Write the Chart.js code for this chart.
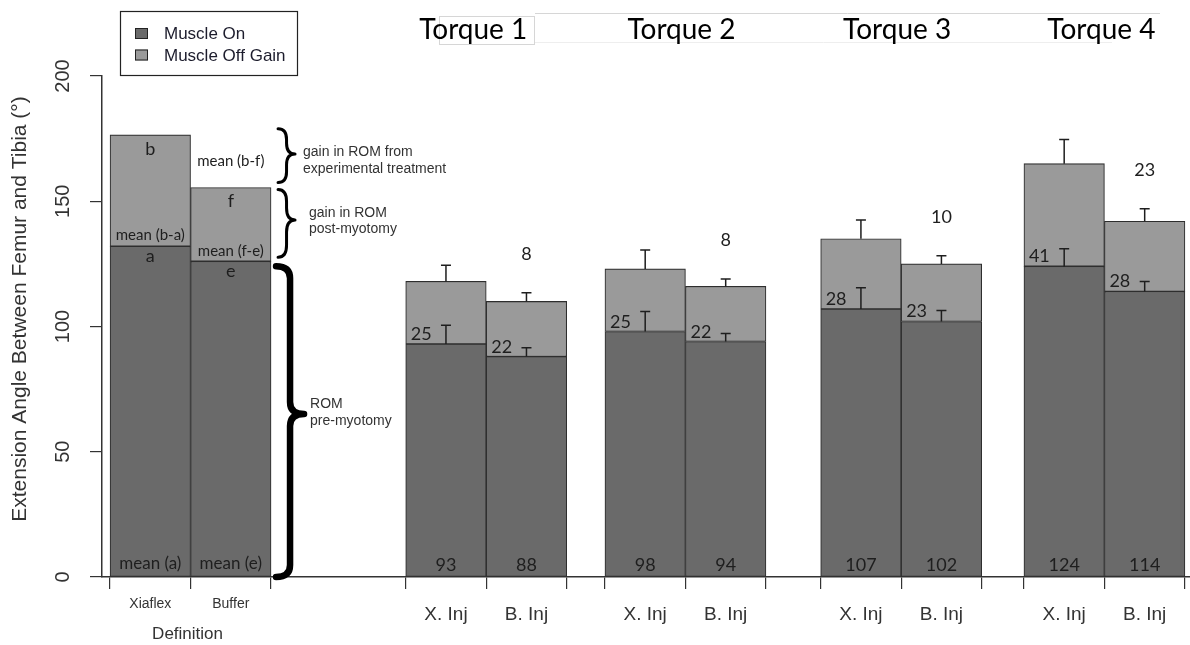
<!DOCTYPE html>
<html>
<head>
<meta charset="utf-8">
<script src="https://cdn.jsdelivr.net/npm/chart.js@4/dist/chart.umd.min.js"></script>
<style>
  html, body { margin: 0; padding: 0; background: #fff; }
  #wrap { width: 1190px; height: 645px; position: relative; }
</style>
</head>
<body>
<div id="wrap"><canvas id="c"></canvas></div>
<script>
// ---- categories ----
const definitionBars = ['Xiaflex', 'Buffer'];
const torqueGroups = ['Torque 1', 'Torque 2', 'Torque 3', 'Torque 4'];
const injections = ['X. Inj', 'B. Inj'];
const seriesNames = ['Muscle On', 'Muscle Off Gain'];

// ---- schematic definition bars (degrees) ----
const defMuscleOn = [132, 126];
const defOffGain = [44.5, 29.5];

// ---- extension angle with muscle on (degrees) ----
const onXiaflex = [93, 98, 107, 124];
const onBuffer = [88, 94, 102, 114];

// ---- additional extension after myotomy (degrees) ----
const gainXiaflex = [25, 25, 28, 41];
const gainBuffer = [22, 22, 23, 28];

// ---- upper error bars (degrees) ----
const errOnXiaflex = [7.5, 8, 8.5, 7];
const errOnBuffer = [3.5, 3.2, 4.4, 4];
const errGainXiaflex = [6.5, 7.5, 7.5, 9.7];
const errGainBuffer = [3.5, 3, 3.2, 5];

// ---- extra ROM of Xiaflex over buffer, per torque (degrees) ----
const treatmentGain = [8, 8, 10, 23];

// ---- y axis ticks ----
const yTicks = [0, 50, 100, 150, 200];

// ---- layout of the x axis, in bar widths ----
const X_MAX = 13.516;
const groupStart = [0.1, 3.773, 6.248, 8.928, 11.453];
const headingShift = [-13, -4, -4, -3];

// flatten into one bar list: definition pair, then X/B pair per torque
const barLabels = [...definitionBars];
const onValues = [...defMuscleOn];
const gainValues = [...defOffGain];
const errOn = [null, null];
const errGain = [null, null];
torqueGroups.forEach((_, t) => {
  barLabels.push(...injections);
  onValues.push(onXiaflex[t], onBuffer[t]);
  gainValues.push(gainXiaflex[t], gainBuffer[t]);
  errOn.push(errOnXiaflex[t], errOnBuffer[t]);
  errGain.push(errGainXiaflex[t], errGainBuffer[t]);
});
const centers = [];
const edges = [];
groupStart.forEach(s => { centers.push(s + 0.5, s + 1.5); edges.push(s, s + 1, s + 2); });

const DARK = '#6a6a6a';
const LIGHT = '#9a9a9a';
const EDGE = '#2e2e2e';
const SANS = '"Liberation Sans", Arial, sans-serif';
const LATO = 'Lato, "Open Sans", sans-serif';

function txt(ctx, s, x, y, size, family, align, base, color) {
  ctx.font = size + 'px ' + family;
  ctx.textAlign = align || 'center';
  ctx.textBaseline = base || 'middle';
  ctx.fillStyle = color || '#1e1e1e';
  ctx.fillText(s, x, y);
}

// right-pointing curly brace between y0 (top) and y1 (bottom)
function brace(ctx, x0, x1, y0, y1, tipFrac, width) {
  const xm = (x0 + x1) / 2;
  const ym = y0 + (y1 - y0) * tipFrac;
  const r = Math.min(12, (y1 - y0) / 5);
  ctx.beginPath();
  ctx.moveTo(x0, y0);
  ctx.quadraticCurveTo(xm, y0, xm, y0 + r);
  ctx.lineTo(xm, ym - r);
  ctx.quadraticCurveTo(xm, ym, x1, ym);
  ctx.quadraticCurveTo(xm, ym, xm, ym + r);
  ctx.lineTo(xm, y1 - r);
  ctx.quadraticCurveTo(xm, y1, x0, y1);
  ctx.lineWidth = width;
  ctx.lineCap = 'round';
  ctx.lineJoin = 'round';
  ctx.strokeStyle = '#000';
  ctx.stroke();
}

const annotations = {
  id: 'annotations',
  afterDatasetsDraw(chart) {
    const { ctx, scales: { y } } = chart;
    const bars = chart.getDatasetMeta(0).data;
    const py = v => y.getPixelForValue(v);
    ctx.save();

    // error bars (upward only)
    ctx.strokeStyle = '#1e1e1e';
    ctx.lineWidth = 1.5;
    const errBar = (x, v, e) => {
      const a = py(v), b = py(v + e);
      ctx.beginPath();
      ctx.moveTo(x, a); ctx.lineTo(x, b);
      ctx.moveTo(x - 5, b); ctx.lineTo(x + 5, b);
      ctx.stroke();
    };
    for (let i = 2; i < bars.length; i++) {
      const x = bars[i].x;
      errBar(x, onValues[i], errOn[i]);
      errBar(x, onValues[i] + gainValues[i], errGain[i]);
    }

    // values inside torque bars
    for (let i = 2; i < bars.length; i++) {
      const b = bars[i];
      const left = b.x - b.width / 2;
      txt(ctx, String(onValues[i]), b.x, py(0) - 12, 18, LATO);
      txt(ctx, String(gainValues[i]), left + 5, py(onValues[i]) - 4, 18, LATO, 'left', 'alphabetic');
    }
    // Xiaflex minus buffer, above each buffer bar
    torqueGroups.forEach((_, t) => {
      const i = 3 + 2 * t;
      const top = onValues[i] + gainValues[i] + errGain[i] + 15.5;
      txt(ctx, String(treatmentGain[t]), bars[i].x, py(top), 18, LATO);
    });

    // definition pair: letters and means
    const xX = bars[0].x, xB = bars[1].x;
    const totX = onValues[0] + gainValues[0];
    const totB = onValues[1] + gainValues[1];
    txt(ctx, 'b', xX, py(totX) + 14, 18, LATO);
    txt(ctx, 'f', xB, py(totB) + 14, 18, LATO);
    txt(ctx, 'mean (b-f)', xB, (py(totX) + py(totB)) / 2, 15, LATO);
    txt(ctx, 'mean (b-a)', xX, py(onValues[0]) - 11.5, 15, LATO);
    txt(ctx, 'a', xX, py(onValues[0]) + 9.5, 18, LATO);
    txt(ctx, 'mean (f-e)', xB, py(onValues[1]) - 10, 15, LATO);
    txt(ctx, 'e', xB, py(onValues[1]) + 10, 18, LATO);
    txt(ctx, 'mean (a)', xX, py(0) - 13, 17, LATO);
    txt(ctx, 'mean (e)', xB, py(0) - 13, 17, LATO);

    // braces to the right of the buffer bar
    const right = xB + bars[1].width / 2;
    const b1 = [py(totX) - 6, py(totB) - 5];
    const b2 = [py(totB) + 2, py(onValues[1]) - 4];
    const b3 = [py(onValues[1]) + 5, py(0)];
    brace(ctx, right + 7, right + 24, b1[0], b1[1], 0.47, 3);
    brace(ctx, right + 7, right + 24, b2[0], b2[1], 0.45, 3);
    brace(ctx, right + 5, right + 33, b3[0], b3[1], 0.475, 6.5);
    const m1 = b1[0] + (b1[1] - b1[0]) * 0.47;
    const m2 = b2[0] + (b2[1] - b2[0]) * 0.45;
    const m3 = b3[0] + (b3[1] - b3[0]) * 0.475;
    txt(ctx, 'gain in ROM from', right + 32, m1 - 2, 14, SANS, 'left', 'middle', '#333');
    txt(ctx, 'experimental treatment', right + 32, m1 + 15, 14, SANS, 'left', 'middle', '#333');
    txt(ctx, 'gain in ROM', right + 38, m2 - 7, 14, SANS, 'left', 'middle', '#333');
    txt(ctx, 'post-myotomy', right + 38, m2 + 9, 14, SANS, 'left', 'middle', '#333');
    txt(ctx, 'ROM', right + 39, m3 - 10, 14, SANS, 'left', 'middle', '#333');
    txt(ctx, 'pre-myotomy', right + 39, m3 + 7, 14, SANS, 'left', 'middle', '#333');

    // axis caption under the definition pair
    txt(ctx, 'Definition', (xX + xB) / 2 - 3, 634, 17, SANS, 'center', 'middle', '#333');
    ctx.restore();
  },
  afterDraw(chart) {
    const { ctx } = chart;
    const bars = chart.getDatasetMeta(0).data;
    ctx.save();

    // light frames around the torque headings
    ctx.lineWidth = 1;
    ctx.strokeStyle = '#d6d6d6';
    ctx.strokeRect(439.5, 16.5, 95, 28);
    ctx.beginPath(); ctx.moveTo(535, 13.5); ctx.lineTo(1160, 13.5); ctx.stroke();
    ctx.strokeStyle = '#eeeeee';
    ctx.beginPath(); ctx.moveTo(535, 42.5); ctx.lineTo(1112, 42.5); ctx.stroke();

    // torque headings
    torqueGroups.forEach((name, t) => {
      const cx = (bars[2 + 2 * t].x + bars[3 + 2 * t].x) / 2 + headingShift[t];
      txt(ctx, name, cx, 30, 28, LATO, 'center', 'middle', '#000');
    });

    // legend box
    ctx.fillStyle = '#fff';
    ctx.fillRect(120, 11, 178, 65);
    ctx.strokeStyle = '#222';
    ctx.lineWidth = 1.2;
    ctx.strokeRect(120.5, 11.5, 177, 64);
    chart.data.datasets.forEach((ds, k) => {
      const yy = 28 + k * 21.5;
      ctx.fillStyle = ds.backgroundColor;
      ctx.fillRect(135, yy, 13, 11);
      ctx.strokeStyle = '#222';
      ctx.lineWidth = 1;
      ctx.strokeRect(135.5, yy + 0.5, 12, 10);
      txt(ctx, ds.label, 164, yy + 6.5, 17, SANS, 'left', 'middle', '#1c1c2c');
    });
    ctx.restore();
  }
};

const common = {
  borderColor: EDGE,
  borderWidth: 1.1,
  borderSkipped: false,
  barPercentage: 1,
  categoryPercentage: 1
};

new Chart(document.getElementById('c'), {
  type: 'bar',
  data: {
    datasets: [
      Object.assign({ label: seriesNames[0], backgroundColor: DARK,
        data: centers.map((x, i) => ({ x, y: onValues[i] })) }, common),
      Object.assign({ label: seriesNames[1], backgroundColor: LIGHT,
        data: centers.map((x, i) => ({ x, y: gainValues[i] })) }, common)
    ]
  },
  options: {
    responsive: true,
    maintainAspectRatio: false,
    devicePixelRatio: 1,
    animation: false,
    layout: { padding: { top: 76, right: 0, bottom: 0, left: 0 } },
    plugins: { legend: { display: false }, tooltip: { enabled: false } },
    font: { family: SANS },
    scales: {
      x: {
        type: 'linear', min: 0, max: X_MAX, stacked: true, position: 'bottom', weight: 1,
        offset: false,
        afterBuildTicks: s => { s.ticks = centers.map(v => ({ value: v })); },
        afterFit: s => { s.height = 56; },
        grid: { display: false, drawTicks: false, offset: false },
        border: { display: false },
        ticks: {
          autoSkip: false, minRotation: 0, maxRotation: 0, padding: 4, color: '#333',
          callback: (v, i) => barLabels[i],
          font: c => c.index < 2
            ? { family: SANS, size: 14, lineHeight: '22px' }
            : { family: SANS, size: 19, lineHeight: '44px' }
        }
      },
      xEdge: {
        type: 'linear', min: 0, max: X_MAX, position: 'bottom', weight: 0,
        offset: false,
        afterBuildTicks: s => { s.ticks = edges.map(v => ({ value: v })); },
        afterFit: s => { s.height = 12; },
        grid: { display: true, offset: false, drawOnChartArea: false, drawTicks: true, tickLength: 12, color: '#333', lineWidth: 1.2 },
        border: { display: true, color: '#333', width: 1.5 },
        ticks: { display: false }
      },
      y: {
        min: 0, max: 200, stacked: true, position: 'left',
        afterBuildTicks: s => { s.ticks = yTicks.map(v => ({ value: v })); },
        afterFit: s => { s.width = 102; },
        grid: { drawOnChartArea: false, tickLength: 12, color: '#333', lineWidth: 1.2 },
        border: { color: '#333', width: 1.5 },
        ticks: { minRotation: 90, maxRotation: 90, crossAlign: 'center', padding: 10,
                 color: '#333', font: { family: SANS, size: 20 } },
        title: { display: true, text: '      Extension Angle Between Femur and Tibia (°)',
                 color: '#333', font: { family: SANS, size: 21 }, padding: { top: 8, bottom: 0 } }
      }
    }
  },
  plugins: [annotations]
});
</script>
</body>
</html>
